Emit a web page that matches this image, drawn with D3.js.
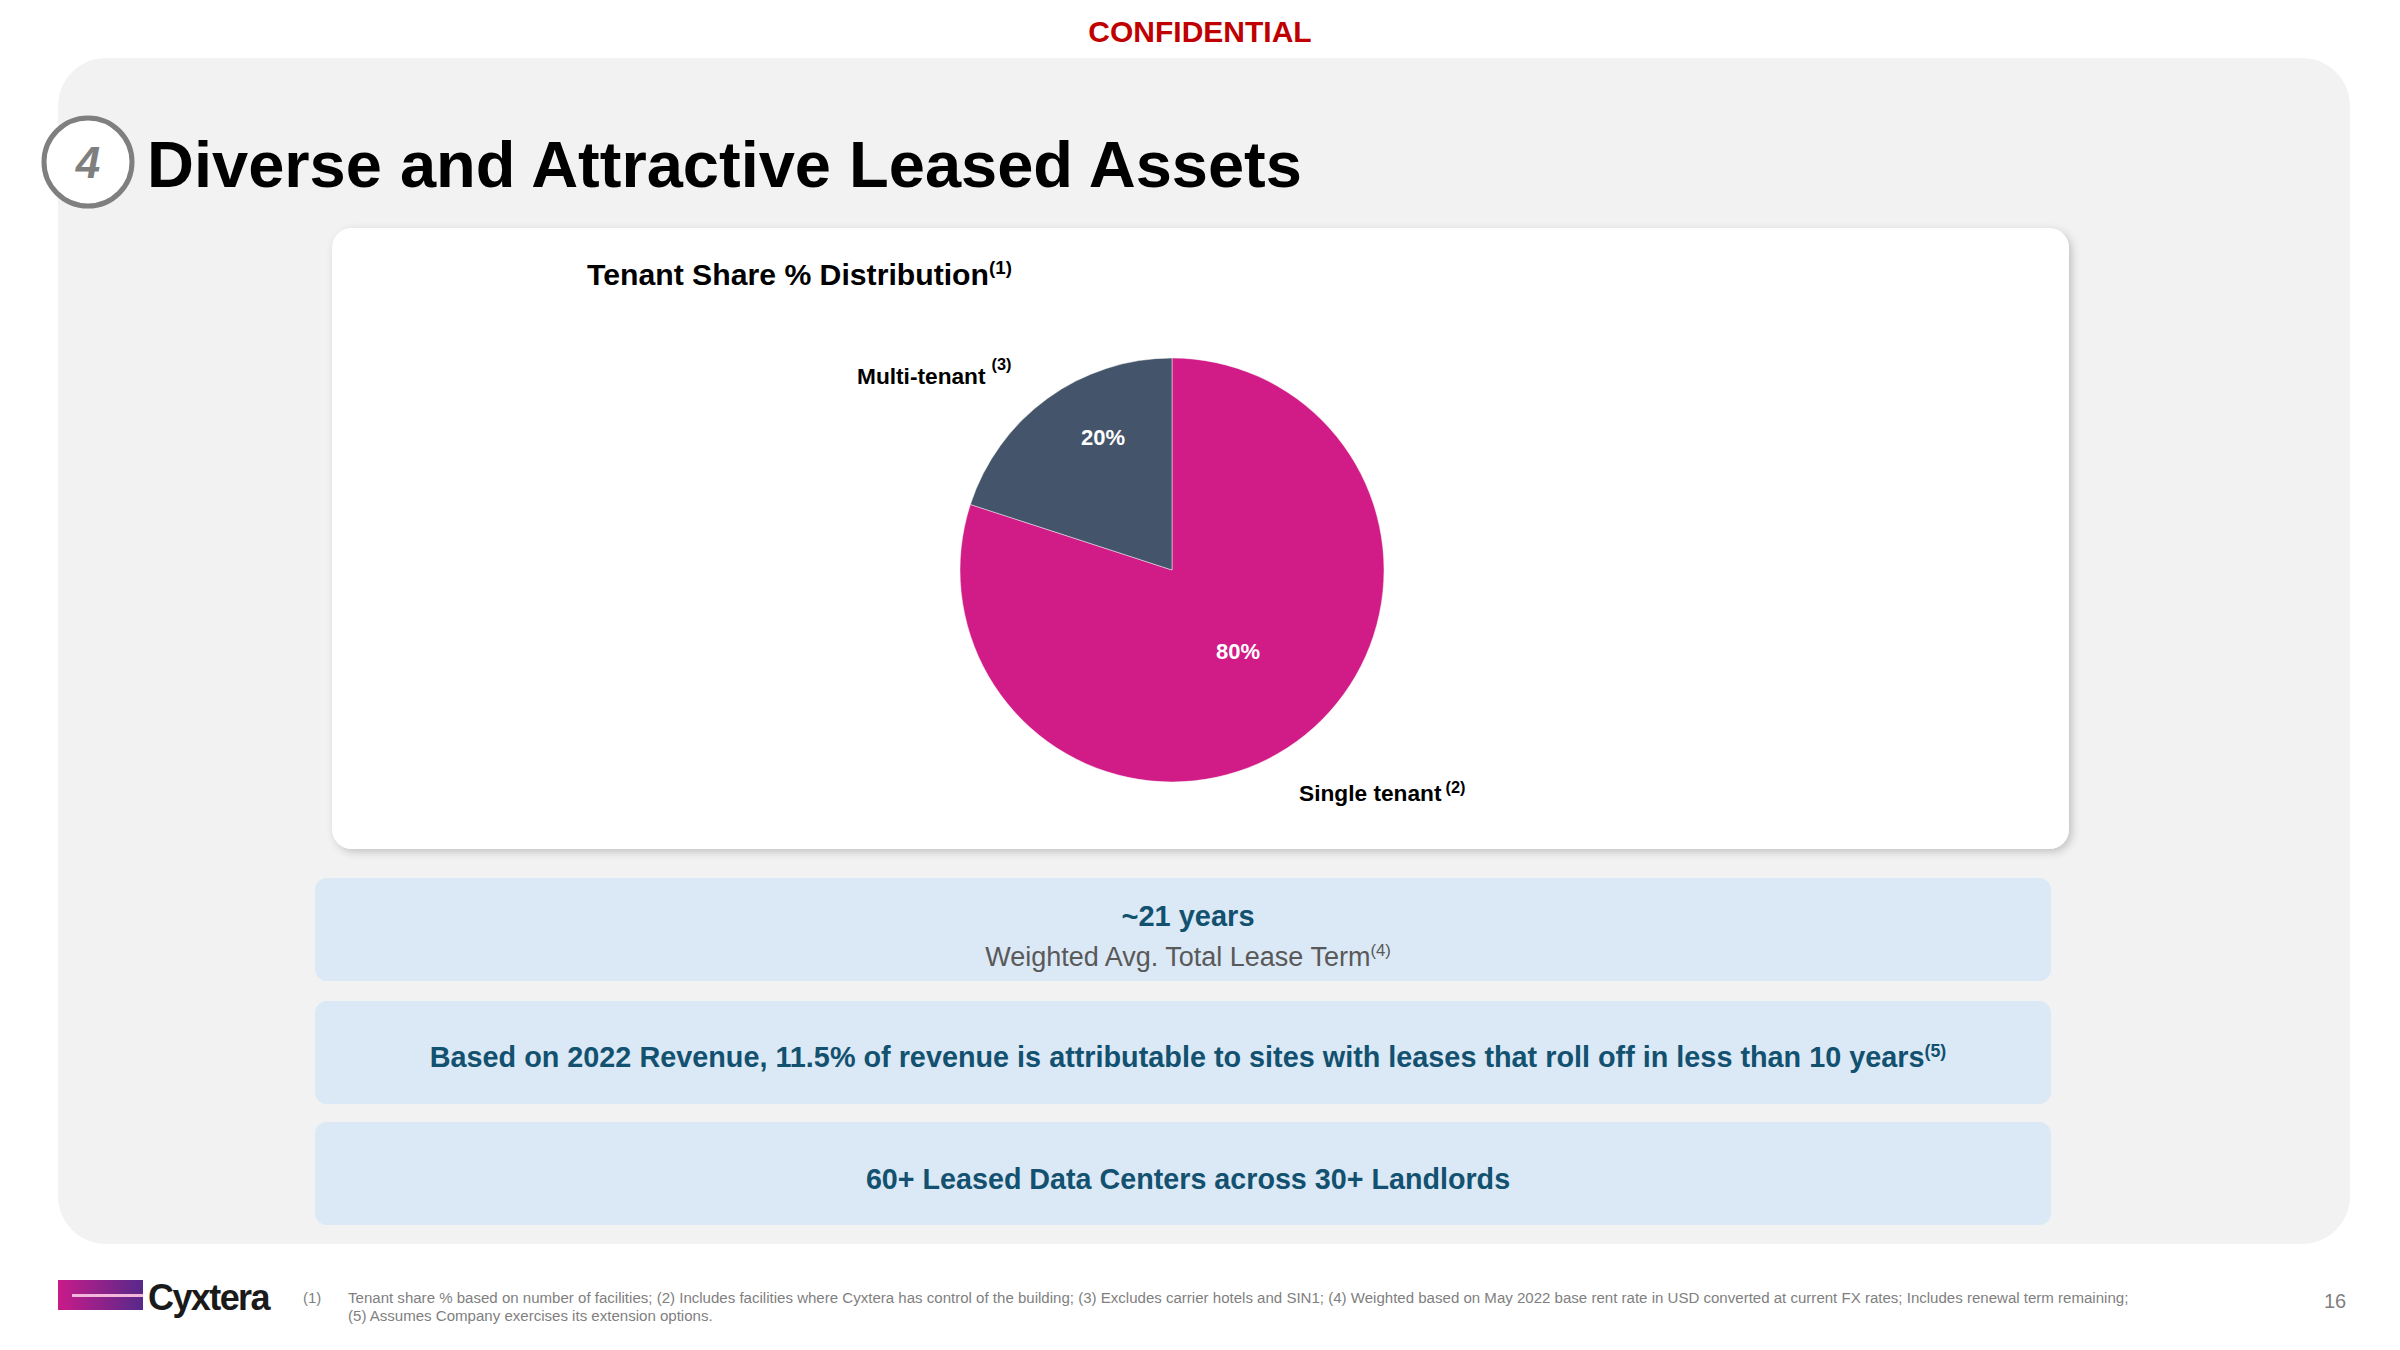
<!DOCTYPE html>
<html>
<head>
<meta charset="utf-8">
<script src="https://cdn.jsdelivr.net/npm/d3@7"></script>
<style>
  html, body { margin: 0; padding: 0; background: #fff; }
  svg { display: block; }
  text { font-family: "Liberation Sans", Arial, sans-serif; }
</style>
</head>
<body>
<div id="slide"></div>
<script>
// chart data
var categories = ["Single tenant", "Multi-tenant"];
var shares = [80, 20];
var shareLabels = ["80%", "20%"];
var sliceColors = ["#d11c87", "#44546a"];
var categoryNotes = ["(2)", "(3)"];

var width = 2400, height = 1350;

var svg = d3.select("#slide")
  .append("svg")
    .attr("width", width)
    .attr("height", height);

var defs = svg.append("defs");

var shadow = defs.append("filter")
    .attr("id", "cardShadow")
    .attr("x", "-5%").attr("y", "-5%")
    .attr("width", "110%").attr("height", "110%");
shadow.append("feDropShadow")
    .attr("dx", 3).attr("dy", 3)
    .attr("stdDeviation", 4)
    .attr("flood-color", "#000")
    .attr("flood-opacity", 0.2);

var logoGrad = defs.append("linearGradient").attr("id", "logoGrad");
logoGrad.append("stop").attr("offset", "0%").attr("stop-color", "#c91b8a");
logoGrad.append("stop").attr("offset", "100%").attr("stop-color", "#56298a");

// writes a text with a raised footnote mark behind it
function noted(x, y, str, note, size, opts) {
  opts = opts || {};
  var t = svg.append("text")
    .attr("x", x)
    .attr("y", y)
    .attr("font-size", size)
    .attr("font-weight", opts.weight || "bold")
    .attr("fill", opts.fill || "#000")
    .attr("text-anchor", opts.anchor || "start");
  t.append("tspan").text(str);
  if (note) {
    t.append("tspan")
      .attr("dx", opts.noteGap || 0)
      .attr("dy", -size * (opts.raise || 0.36))
      .attr("font-size", size * (opts.noteScale || 0.62))
      .text(note);
  }
  return t;
}

// grey background panel
svg.append("rect")
    .attr("x", 58).attr("y", 58)
    .attr("width", 2292).attr("height", 1186)
    .attr("rx", 48)
    .attr("fill", "#f2f2f2");

// white card behind the pie
svg.append("rect")
    .attr("x", 332).attr("y", 228)
    .attr("width", 1737).attr("height", 621)
    .attr("rx", 20)
    .attr("fill", "#fff")
    .attr("filter", "url(#cardShadow)");

// confidential mark
svg.append("text")
    .attr("x", 1200).attr("y", 42)
    .attr("text-anchor", "middle")
    .attr("font-size", 30)
    .attr("font-weight", "bold")
    .attr("fill", "#c00000")
    .text("CONFIDENTIAL");

// section number and title
svg.append("circle")
    .attr("cx", 88).attr("cy", 162).attr("r", 44)
    .attr("fill", "#fff")
    .attr("stroke", "#7f7f7f")
    .attr("stroke-width", 5);
svg.append("text")
    .attr("x", 88).attr("y", 178)
    .attr("text-anchor", "middle")
    .attr("font-size", 44)
    .attr("font-weight", "bold")
    .attr("font-style", "italic")
    .attr("fill", "#7f7f7f")
    .text("4");
svg.append("text")
    .attr("x", 147).attr("y", 187)
    .attr("font-size", 65)
    .attr("font-weight", "bold")
    .attr("fill", "#000")
    .text("Diverse and Attractive Leased Assets");

noted(587, 285, "Tenant Share % Distribution", "(1)", 30.2);

// pie
var pieCx = 1172, pieCy = 570, pieR = 212;
var pie = d3.pie().sort(null).value(function(d) { return d; });
var arc = d3.arc().innerRadius(0).outerRadius(pieR);

var chart = svg.append("g")
    .attr("transform", "translate(" + pieCx + "," + pieCy + ")");

chart.selectAll("path")
    .data(pie(shares))
    .enter()
    .append("path")
      .attr("d", arc)
      .attr("fill", function(d, i) { return sliceColors[i]; })
      .attr("stroke", "#fff")
      .attr("stroke-opacity", 0.45)
      .attr("stroke-width", 1);

// the percent labels sit off the centroid in the original
var labelShift = [[66, 81], [-69, -133]];
chart.selectAll("text.pct")
    .data(pie(shares))
    .enter()
    .append("text")
      .attr("class", "pct")
      .attr("x", function(d, i) { return labelShift[i][0]; })
      .attr("y", function(d, i) { return labelShift[i][1] + 8; })
      .attr("text-anchor", "middle")
      .attr("font-size", 22)
      .attr("font-weight", "bold")
      .attr("fill", "#fff")
      .text(function(d, i) { return shareLabels[i]; });

// slice names
noted(1299, 801, categories[0], categoryNotes[0], 22.7, {noteGap: 4, raise: 0.36, noteScale: 0.72});
noted(857, 384, categories[1], categoryNotes[1], 22.7, {noteGap: 6, raise: 0.62, noteScale: 0.72});

// blue fact boxes
var boxTops = [878, 1001, 1122];
svg.selectAll("rect.box")
    .data(boxTops)
    .enter()
    .append("rect")
      .attr("class", "box")
      .attr("x", 315).attr("y", function(d) { return d; })
      .attr("width", 1736).attr("height", 103)
      .attr("rx", 12)
      .attr("fill", "#dbe8f5");

noted(1188, 926, "~21 years", null, 29, {anchor: "middle", fill: "#12516f"});
noted(1188, 966, "Weighted Avg. Total Lease Term", "(4)", 27, {anchor: "middle", weight: "normal", fill: "#595959"});
noted(1188, 1067, "Based on 2022 Revenue, 11.5% of revenue is attributable to sites with leases that roll off in less than 10 years", "(5)", 28.8, {anchor: "middle", fill: "#12516f"});
noted(1188, 1189, "60+ Leased Data Centers across 30+ Landlords", null, 28.7, {anchor: "middle", fill: "#12516f"});

// logo
svg.append("rect")
    .attr("x", 58).attr("y", 1280)
    .attr("width", 85).attr("height", 30)
    .attr("fill", "url(#logoGrad)");
svg.append("rect")
    .attr("x", 72).attr("y", 1294)
    .attr("width", 71).attr("height", 3)
    .attr("fill", "#f3b7dc");
svg.append("text")
    .attr("x", 148).attr("y", 1310)
    .attr("font-family", "'Open Sans', sans-serif")
    .attr("font-size", 36)
    .attr("font-weight", 600)
    .attr("letter-spacing", -1.6)
    .attr("fill", "#1a1a1a")
    .text("Cyxtera");

// footnotes
var footColor = "#7f7f7f";
svg.append("text")
    .attr("x", 303).attr("y", 1303)
    .attr("font-size", 15)
    .attr("fill", footColor)
    .text("(1)");
svg.append("text")
    .attr("x", 348).attr("y", 1303)
    .attr("font-size", 15.05)
    .attr("fill", footColor)
    .text("Tenant share % based on number of facilities; (2) Includes facilities where Cyxtera has control of the building; (3) Excludes carrier hotels and SIN1; (4) Weighted based on May 2022 base rent rate in USD converted at current FX rates; Includes renewal term remaining;");
svg.append("text")
    .attr("x", 348).attr("y", 1321)
    .attr("font-size", 15.05)
    .attr("fill", footColor)
    .text("(5) Assumes Company exercises its extension options.");

// page number
svg.append("text")
    .attr("x", 2335).attr("y", 1308)
    .attr("text-anchor", "middle")
    .attr("font-size", 20)
    .attr("fill", "#7f7f7f")
    .text("16");
</script>
</body>
</html>
